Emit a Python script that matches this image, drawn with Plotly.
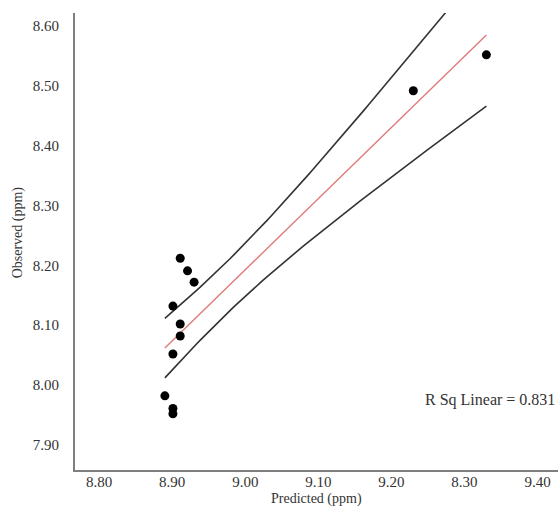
import numpy as np
import plotly.graph_objects as go

# Observed vs predicted chemical shifts (ppm)
predicted = [8.911, 8.921, 8.930, 8.901, 8.911, 8.911, 8.901, 8.890, 8.901, 8.901, 9.230, 9.330]
observed = [8.212, 8.191, 8.172, 8.132, 8.102, 8.082, 8.052, 7.982, 7.961, 7.952, 8.492, 8.552]

x_tick_vals = [8.80, 8.90, 9.00, 9.10, 9.20, 9.30, 9.40]
x_tick_text = ["8.80", "8.90", "9.00", "9.10", "9.20", "8.30", "9.40"]
y_tick_vals = [7.90, 8.00, 8.10, 8.20, 8.30, 8.40, 8.50, 8.60]
y_tick_text = ["7.90", "8.00", "8.10", "8.20", "8.30", "8.40", "8.50", "8.60"]

r2_label = "R Sq Linear = 0.831"
T_CRIT = 1.8125  # two-sided t, 10 df, as used by the mean-confidence band in the reference

# Linear fit and confidence band of the mean, derived from the data
x = np.array(predicted)
y = np.array(observed)
n = len(x)
slope, intercept = np.polyfit(x, y, 1)
resid = y - (slope * x + intercept)
s = np.sqrt(np.sum(resid ** 2) / (n - 2))
sxx = np.sum((x - x.mean()) ** 2)
xg = np.linspace(x.min(), x.max(), 80)
yg = slope * xg + intercept
half = T_CRIT * s * np.sqrt(1.0 / n + (xg - x.mean()) ** 2 / sxx)

fig = go.Figure()
fig.add_trace(go.Scatter(x=xg, y=yg + half, mode="lines",
                         line=dict(color="#333333", width=1.6), hoverinfo="skip"))
fig.add_trace(go.Scatter(x=xg, y=yg - half, mode="lines",
                         line=dict(color="#333333", width=1.6), hoverinfo="skip"))
fig.add_trace(go.Scatter(x=xg, y=yg, mode="lines",
                         line=dict(color="#e07a7a", width=1.4), hoverinfo="skip"))
fig.add_trace(go.Scatter(x=predicted, y=observed, mode="markers",
                         marker=dict(color="black", size=9, line=dict(width=0))))

font_family = "Liberation Serif"
fig.update_layout(
    width=558, height=508,
    margin=dict(l=75, r=0, t=13, b=38),
    paper_bgcolor="white", plot_bgcolor="white",
    showlegend=False,
    font=dict(family=font_family, color="#333333", size=15),
    xaxis=dict(range=[8.767, 9.428], tickvals=x_tick_vals, ticktext=x_tick_text,
               showgrid=False, zeroline=False, showline=True, linecolor="#7f7f7f",
               linewidth=2, ticks="", ticklabelstandoff=-3,
               tickfont=dict(family=font_family, size=15, color="#333333")),
    yaxis=dict(range=[7.858, 8.622], tickvals=y_tick_vals, ticktext=y_tick_text,
               showgrid=False, zeroline=False, showline=True, linecolor="#7f7f7f",
               linewidth=2, ticks="", ticklabelstandoff=11,
               tickfont=dict(family=font_family, size=15, color="#333333")),
    annotations=[
        dict(text="Predicted (ppm)", xref="paper", yref="paper", x=0.5, y=-0.063,
             xanchor="center", yanchor="middle", showarrow=False,
             font=dict(family=font_family, size=14, color="#333333")),
        dict(text="Observed (ppm)", xref="paper", yref="paper", x=-0.118, y=0.52,
             xanchor="center", yanchor="middle", textangle=-90, showarrow=False,
             font=dict(family=font_family, size=14, color="#333333")),
        dict(text=r2_label, xref="paper", yref="paper", x=0.998, y=0.153,
             xanchor="right", yanchor="middle", showarrow=False,
             font=dict(family=font_family, size=16, color="#333333")),
    ],
)

fig.write_html("out.html", config={"displayModeBar": False},
               post_script="document.body.style.margin='0';document.body.style.overflow='hidden';")
